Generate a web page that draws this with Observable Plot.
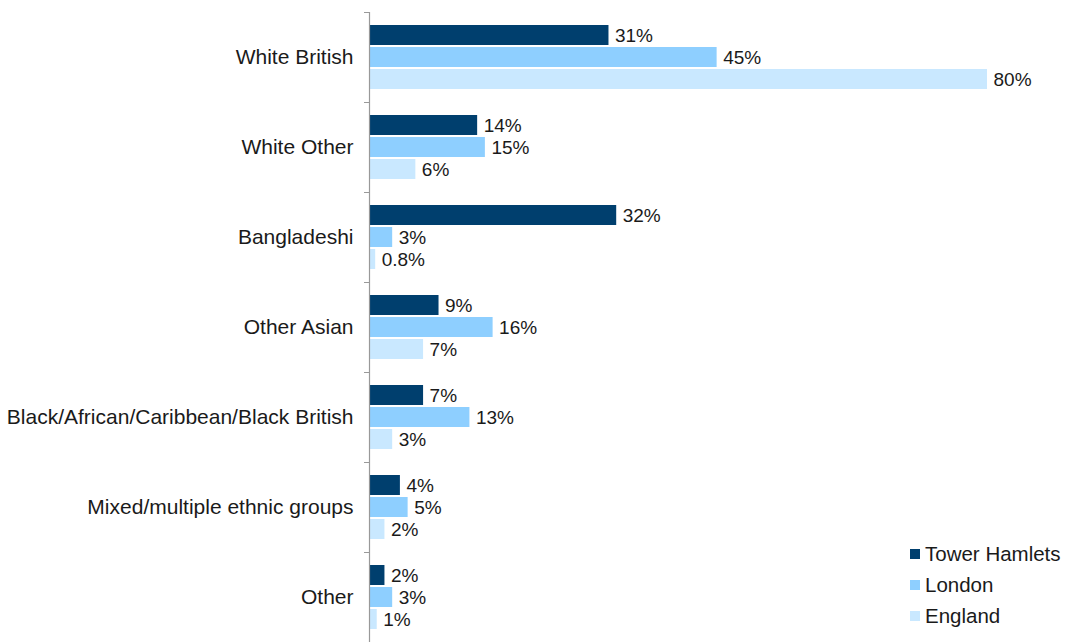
<!DOCTYPE html>
<html>
<head>
<meta charset="utf-8">
<script src="https://cdn.jsdelivr.net/npm/d3@7"></script>
<script src="https://cdn.jsdelivr.net/npm/@observablehq/plot@0.6"></script>
<style>
  html, body { margin: 0; padding: 0; background: #fff; }
  #wrap { position: relative; width: 1067px; height: 642px; font-family: "Liberation Sans", Arial, sans-serif; }
  #legend { position: absolute; left: 910px; top: 538px; font-size: 20.5px; color: #1a1a1a; }
  #legend .row { display: flex; align-items: center; height: 31px; }
  #legend .sw { width: 10px; height: 10px; margin-right: 5px; }
</style>
</head>
<body>
<div id="wrap"><div id="legend"></div></div>
<script>
const categories = ["White British", "White Other", "Bangladeshi", "Other Asian", "Black/African/Caribbean/Black British", "Mixed/multiple ethnic groups", "Other"];
const seriesNames = ["Tower Hamlets", "London", "England"];
const towerHamlets = [31, 14, 32, 9, 7, 4, 2];
const london = [45, 15, 3, 16, 13, 5, 3];
const england = [80, 6, 0.8, 7, 3, 2, 1];
const colors = ["#003f6e", "#8ecfff", "#c9e8ff"];

const seriesValues = [towerHamlets, london, england];
const data = [];
categories.forEach((c, i) => {
  seriesNames.forEach((s, j) => {
    data.push({category: c, series: s, value: seriesValues[j][i]});
  });
});

const chart = Plot.plot({
  width: 1067,
  height: 642,
  marginLeft: 369,
  marginRight: 80,
  marginTop: 12,
  marginBottom: 0,
  style: {fontFamily: "'Liberation Sans', Arial, sans-serif", color: "#1a1a1a", background: "#fff"},
  x: {domain: [0, 80], axis: null},
  y: {domain: seriesNames, paddingInner: 0.11, paddingOuter: 0.55, axis: null},
  fy: {domain: categories, padding: 0},
  color: {domain: seriesNames, range: colors},
  marks: [
    Plot.barX(data, {fy: "category", y: "series", x: "value", fill: "series"}),
    Plot.text(data, {
      fy: "category", y: "series", x: "value",
      text: d => d.value + "%",
      textAnchor: "start", dx: 6, fontSize: 19, fill: "#1a1a1a"
    }),
    Plot.ruleX([0], {stroke: "#999", strokeWidth: 1.2}),
    Plot.axisFy({anchor: "left", tickSize: 0, tickPadding: 16, fontSize: 21, label: null}),
    Plot.axisFy({anchor: "left", tickSize: 5, tickFormat: () => "", dy: -45, stroke: "#999", label: null})
  ]
});
document.getElementById("wrap").prepend(chart);

const legend = document.getElementById("legend");
seriesNames.forEach((s, j) => {
  const row = document.createElement("div");
  row.className = "row";
  const sw = document.createElement("div");
  sw.className = "sw";
  sw.style.background = colors[j];
  const t = document.createElement("span");
  t.textContent = s;
  row.appendChild(sw);
  row.appendChild(t);
  legend.appendChild(row);
});
</script>
</body>
</html>
